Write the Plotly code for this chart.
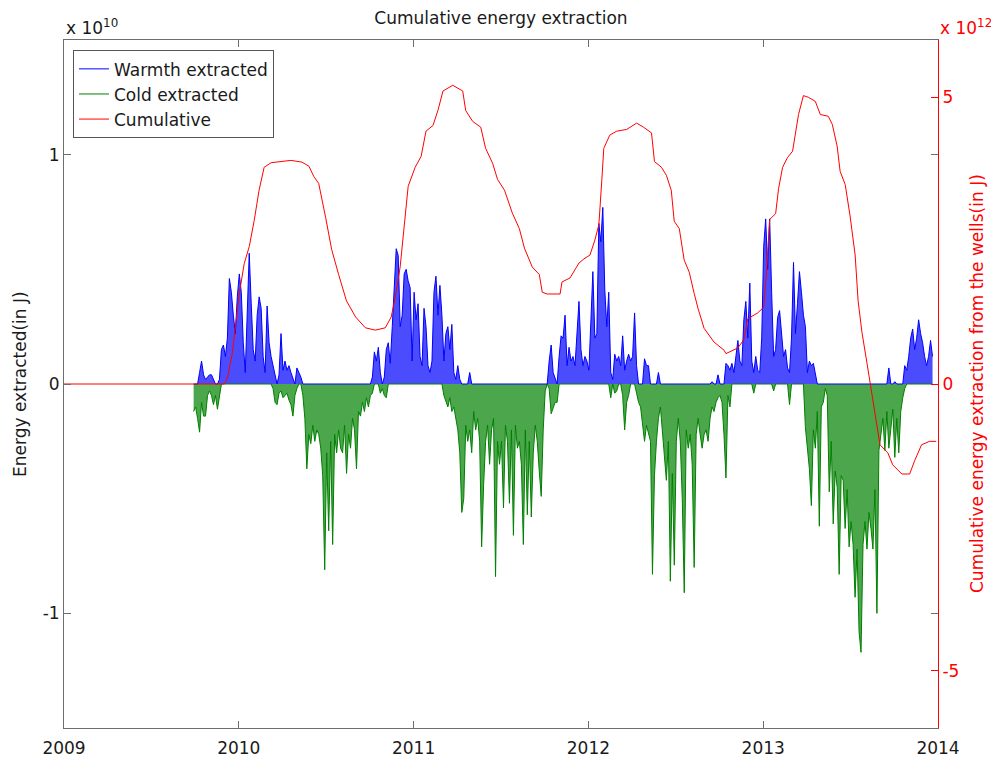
import numpy as np
import plotly.graph_objects as go

# ---- data (energy in units of 1e10 J, cumulative in units of 1e12 J) ----
sample_start = 2009.7415      # fractional year of first sample
sample_step = 1.0 / 88.0      # years between samples (~4.15 days)

warmth = [
    0, 0, 0, 0.05, 0.10, 0.04, 0.02, 0.03, 0.04, 0.04,
    0.02, 0, 0, 0.02, 0.15, 0.17, 0.12, 0.20, 0.46, 0.40,
    0.30, 0.22, 0.38, 0.48, 0.40, 0.18, 0.05, 0.30, 0.57, 0.35,
    0.15, 0.10, 0.30, 0.38, 0.33, 0.12, 0.05, 0.34, 0.18, 0.12,
    0.08, 0.03, 0, 0.04, 0.22, 0.06, 0.10, 0.06, 0.08, 0.05,
    0.02, 0, 0.07, 0.05, 0.03, 0, 0, 0, 0, 0,
    0, 0, 0, 0, 0, 0, 0, 0, 0, 0,
    0, 0, 0, 0, 0, 0, 0, 0, 0, 0,
    0, 0, 0, 0, 0, 0, 0, 0, 0, 0,
    0.03, 0.14, 0.10, 0.16, 0.05, 0, 0.03, 0.15, 0.18, 0.09,
    0.25, 0.40, 0.59, 0.56, 0.25, 0.30, 0.48, 0.50, 0.45, 0.42,
    0.10, 0.40, 0.28, 0.35, 0.12, 0.08, 0.33, 0.25, 0.08, 0.05,
    0.10, 0.40, 0.47, 0.30, 0.43, 0.30, 0.10, 0.22, 0.25, 0.15,
    0.26, 0.05, 0.02, 0.08, 0.02, 0, 0, 0, 0, 0.05,
    0, 0, 0, 0, 0, 0, 0, 0, 0, 0,
    0, 0, 0, 0, 0, 0, 0, 0, 0, 0,
    0, 0, 0, 0, 0, 0, 0, 0, 0, 0,
    0, 0, 0, 0, 0, 0, 0, 0, 0, 0.10,
    0.17, 0.05, 0.02, 0, 0.12, 0.21, 0.20, 0.30, 0.08, 0.16,
    0.10, 0.12, 0.08, 0.20, 0.36, 0.15, 0.08, 0.12, 0.10, 0.06,
    0.25, 0.49, 0.20, 0.22, 0.70, 0.62, 0.77, 0.41, 0.25, 0.40,
    0.05, 0.02, 0.13, 0.10, 0.12, 0.08, 0.21, 0.06, 0.10, 0.13,
    0.10, 0.12, 0.31, 0.08, 0, 0, 0, 0.11, 0.08, 0.08,
    0, 0, 0, 0, 0.05, 0, 0, 0, 0, 0,
    0, 0, 0, 0, 0, 0, 0, 0, 0, 0,
    0, 0, 0, 0, 0, 0, 0, 0, 0, 0,
    0, 0.01, 0, 0, 0.04, 0, 0, 0, 0.09, 0.08,
    0.06, 0.09, 0.05, 0.12, 0.19, 0.10, 0.08, 0.28, 0.36, 0.20,
    0.44, 0.10, 0.05, 0.12, 0.06, 0.05, 0.20, 0.60, 0.72, 0.50,
    0.72, 0.40, 0.12, 0.15, 0.29, 0.32, 0.20, 0.12, 0.15, 0.07,
    0.05, 0.20, 0.53, 0.22, 0.35, 0.49, 0.40, 0.30, 0.25, 0.05,
    0.10, 0.08, 0.09, 0.05, 0, 0, 0, 0, 0, 0,
    0, 0, 0, 0, 0, 0, 0, 0, 0, 0,
    0, 0, 0, 0, 0, 0, 0, 0, 0, 0,
    0, 0, 0, 0, 0, 0, 0, 0, 0, 0,
    0.07, 0, 0, 0.01, 0, 0, 0, 0, 0.08, 0.06,
    0.12, 0.20, 0.24, 0.15, 0.20, 0.28, 0.22, 0.18, 0.12, 0.08,
    0.12, 0.19, 0.12,
]

cold = [
    -0.12, -0.10, -0.15, -0.21, -0.08, -0.14, -0.14, -0.05, -0.03, -0.05,
    -0.09, -0.05, -0.11, -0.06, 0, 0, 0, 0, 0, 0,
    0, 0, 0, 0, 0, 0, 0, 0, 0, 0,
    0, 0, 0, 0, 0, 0, 0, 0, 0, 0,
    -0.02, -0.08, -0.09, -0.04, -0.03, -0.06, -0.05, -0.04, -0.07, -0.09,
    -0.14, -0.05, -0.02, 0, 0, -0.05, -0.15, -0.37, -0.22, -0.26,
    -0.18, -0.25, -0.20, -0.22, -0.28, -0.40, -0.81, -0.30, -0.64, -0.25,
    -0.70, -0.22, -0.30, -0.20, -0.28, -0.30, -0.18, -0.39, -0.22, -0.28,
    -0.15, -0.20, -0.37, -0.12, -0.14, -0.08, -0.12, -0.06, -0.10, -0.05,
    -0.04, 0, 0, 0, -0.04, -0.02, -0.05, -0.06, 0, 0,
    0, 0, 0, 0, 0, 0, 0, 0, 0, 0,
    0, 0, 0, 0, 0, 0, 0, 0, 0, 0,
    0, 0, 0, 0, 0, 0, -0.05, -0.08, -0.10, -0.06,
    -0.12, -0.10, -0.15, -0.20, -0.30, -0.56, -0.50, -0.18, -0.25, -0.20,
    -0.30, -0.12, -0.20, -0.15, -0.25, -0.71, -0.44, -0.25, -0.18, -0.35,
    -0.20, -0.15, -0.84, -0.25, -0.35, -0.25, -0.54, -0.18, -0.25, -0.52,
    -0.20, -0.66, -0.18, -0.28, -0.25, -0.35, -0.70, -0.20, -0.57, -0.25,
    -0.58, -0.30, -0.18, -0.25, -0.38, -0.49, -0.20, -0.03, 0, -0.02,
    -0.13, -0.10, -0.08, -0.08, 0, 0, 0, 0, 0, 0,
    0, 0, 0, 0, 0, 0, 0, 0, 0, 0,
    0, 0, 0, 0, 0, 0, 0, 0, 0, 0,
    -0.06, 0, -0.04, -0.03, 0, 0, -0.05, -0.20, -0.08, -0.05,
    0, 0, 0, -0.04, -0.08, -0.10, -0.18, -0.25, -0.18, -0.22,
    -0.25, -0.83, -0.40, -0.25, -0.15, -0.10, -0.20, -0.33, -0.42, -0.25,
    -0.86, -0.39, -0.79, -0.25, -0.15, -0.25, -0.50, -0.91, -0.20, -0.28,
    -0.22, -0.35, -0.80, -0.22, -0.15, -0.22, -0.28, -0.22, -0.20, -0.25,
    -0.15, -0.10, -0.12, -0.08, -0.06, -0.05, -0.08, -0.22, -0.41, -0.05,
    -0.10, 0, 0, 0, 0, 0, 0, 0, 0, 0,
    0, 0, -0.04, 0, 0, 0, 0, 0, 0, 0,
    0, 0, -0.03, 0, 0, 0, 0, 0, 0, 0,
    -0.09, 0, 0, 0, 0, 0, 0, 0, -0.19, -0.30,
    -0.37, -0.53, -0.20, -0.28, -0.12, -0.62, -0.10, -0.08, -0.02, -0.05,
    -0.47, -0.25, -0.61, -0.38, -0.45, -0.83, -0.40, -0.42, -0.63, -0.46,
    -0.71, -0.60, -0.70, -0.93, -0.72, -1.08, -1.17, -0.70, -0.60, -0.72,
    -0.56, -0.63, -0.72, -0.46, -1.00, -0.29, -0.22, -0.15, -0.29, -0.12,
    -0.28, -0.18, -0.11, -0.32, -0.15, -0.30, -0.12, -0.06, -0.02, 0,
    0, 0, 0, 0, 0, 0, 0, 0, 0, 0,
    0, 0, 0,
]

cum_time = [
    2009.0, 2009.918, 2009.935, 2009.963, 2010.003, 2010.031, 2010.060, 2010.088, 2010.116, 2010.145,
    2010.185, 2010.230, 2010.298, 2010.361, 2010.401, 2010.429, 2010.457, 2010.497, 2010.531, 2010.571,
    2010.616, 2010.668, 2010.724, 2010.781, 2010.838, 2010.872, 2010.895, 2010.923, 2010.952, 2010.969,
    2011.009, 2011.043, 2011.071, 2011.111, 2011.139, 2011.168, 2011.224, 2011.281, 2011.298, 2011.338,
    2011.384, 2011.412, 2011.452, 2011.480, 2011.520, 2011.565, 2011.605, 2011.634, 2011.679, 2011.719,
    2011.736, 2011.764, 2011.838, 2011.849, 2011.895, 2011.946, 2011.974, 2012.009, 2012.037, 2012.060,
    2012.077, 2012.088, 2012.122, 2012.162, 2012.219, 2012.276, 2012.315, 2012.361, 2012.378, 2012.418,
    2012.446, 2012.474, 2012.491, 2012.520, 2012.548, 2012.577, 2012.605, 2012.628, 2012.662, 2012.719,
    2012.776, 2012.787, 2012.855, 2012.889, 2012.912, 2012.969, 2013.003, 2013.020, 2013.037, 2013.071,
    2013.088, 2013.111, 2013.139, 2013.168, 2013.202, 2013.230, 2013.259, 2013.298, 2013.327, 2013.372,
    2013.395, 2013.423, 2013.440, 2013.469, 2013.497, 2013.526, 2013.543, 2013.565, 2013.594, 2013.622,
    2013.651, 2013.668, 2013.713, 2013.741, 2013.793, 2013.838, 2013.866, 2013.906, 2013.952, 2013.99,
]

cum_val = [
    0, 0, 0.1, 0.54, 1.58, 2.1, 2.4, 2.85, 3.38, 3.78,
    3.86, 3.88, 3.9, 3.87, 3.80, 3.62, 3.5, 2.9, 2.35, 1.91,
    1.45, 1.17, 0.98, 0.94, 0.98, 1.17, 1.51, 2.04, 2.98, 3.45,
    3.78, 3.97, 4.41, 4.51, 4.77, 5.11, 5.21, 5.11, 4.77, 4.58,
    4.48, 4.11, 3.85, 3.57, 3.38, 2.98, 2.71, 2.37, 2.04, 1.91,
    1.60, 1.57, 1.57, 1.78, 1.85, 2.11, 2.18, 2.25, 2.51, 2.78,
    3.57, 4.11, 4.34, 4.41, 4.44, 4.55, 4.48, 4.38, 3.88, 3.78,
    3.64, 3.38, 2.84, 2.71, 2.16, 1.95, 1.58, 1.31, 0.97, 0.73,
    0.59, 0.53, 0.63, 0.77, 1.14, 1.24, 1.34, 1.99, 2.87, 2.97,
    3.41, 3.78, 3.95, 4.06, 4.70, 5.03, 5.0, 4.93, 4.70, 4.67,
    4.53, 4.15, 3.71, 3.48, 2.93, 2.25, 1.45, 0.9, 0.36, -0.18,
    -0.66, -1.06, -1.2, -1.41, -1.57, -1.57, -1.34, -1.06, -1.0, -1.0,
]

year_ticks = [2009, 2010, 2011, 2012, 2013, 2014]
left_ticks = [-1, 0, 1]
right_ticks = [-5, 0, 5]

series_names = ["Warmth extracted", "Cold extracted", "Cumulative"]

assert len(warmth) == len(cold)
assert len(cum_time) == len(cum_val)

t = sample_start + sample_step * np.arange(len(warmth))

FONT = "DejaVu Sans"
FS = 17
BLUE = "#0000ff"
GREEN = "#008000"
RED = "#ff0000"
AXIS = "#6e6e6e"
TXT = "#1a1a1a"

fig = go.Figure()

# fills to mimic the dense daily strokes
fig.add_trace(go.Scatter(x=t, y=warmth, mode="lines", line=dict(width=0, color=BLUE),
                         fill="tozeroy", fillcolor="rgba(0,0,255,0.7)",
                         showlegend=False, hoverinfo="skip"))
fig.add_trace(go.Scatter(x=t, y=cold, mode="lines", line=dict(width=0, color=GREEN),
                         fill="tozeroy", fillcolor="rgba(0,128,0,0.7)",
                         showlegend=False, hoverinfo="skip"))

fig.add_trace(go.Scatter(x=t, y=cold, mode="lines", name=series_names[1], legendrank=2,
                         line=dict(color=GREEN, width=1)))
fig.add_trace(go.Scatter(x=t, y=warmth, mode="lines", name=series_names[0], legendrank=1,
                         line=dict(color=BLUE, width=1)))
fig.add_trace(go.Scatter(x=cum_time, y=cum_val, mode="lines", name=series_names[2], legendrank=3,
                         line=dict(color=RED, width=1), yaxis="y2"))

fig.update_layout(
    width=991, height=758,
    margin=dict(l=64, r=53, t=40, b=30),
    paper_bgcolor="white", plot_bgcolor="white",
    font=dict(family=FONT, size=FS, color=TXT),
    title=dict(text="Cumulative energy extraction", x=0.5, xref="paper",
               y=1 - 18 / 758, yref="container", yanchor="middle",
               font=dict(family=FONT, size=FS, color=TXT)),
    showlegend=True,
    legend=dict(x=0.0103, y=0.985, xanchor="left", yanchor="top",
                bgcolor="white", bordercolor="#555", borderwidth=1,
                font=dict(family=FONT, size=FS, color=TXT),
                tracegroupgap=0),
    xaxis=dict(range=[2009, 2014], tickvals=year_ticks,
               ticktext=[str(y) for y in year_ticks],
               ticks="inside", ticklen=7, tickcolor=AXIS,
               ticklabelstandoff=5, automargin=False,
               showline=True, linecolor=AXIS, linewidth=1, mirror="ticks",
               showgrid=False, zeroline=False),
    yaxis=dict(range=[-1.5, 1.5], tickvals=left_ticks,
               ticktext=[str(v) for v in left_ticks],
               ticks="inside", ticklen=7, tickcolor=AXIS, automargin=False,
               showline=True, linecolor=AXIS, linewidth=1, mirror="ticks",
               showgrid=False, zeroline=False),
    yaxis2=dict(range=[-6, 6], tickvals=right_ticks,
                ticktext=[str(v) for v in right_ticks],
                overlaying="y", side="right", anchor="x", automargin=False,
                ticks="inside", ticklen=7, tickcolor=RED,
                tickfont=dict(color=RED, family=FONT, size=FS),
                showline=True, linecolor=RED, linewidth=1,
                showgrid=False, zeroline=False),
    annotations=[
        dict(text="x 10<sup>10</sup>", xref="paper", yref="paper", x=0, y=1,
             xanchor="left", yanchor="bottom", yshift=0, showarrow=False,
             font=dict(family=FONT, size=FS, color=TXT)),
        dict(text="x 10<sup>12</sup>", xref="paper", yref="paper", x=1, y=1,
             xanchor="left", yanchor="bottom", yshift=0, showarrow=False,
             font=dict(family=FONT, size=FS, color=RED)),
        dict(text="Energy extracted(in J)", xref="paper", yref="paper",
             x=(20 - 64) / 874, y=0.5, xanchor="center", yanchor="middle",
             textangle=-90, showarrow=False,
             font=dict(family=FONT, size=FS, color=TXT)),
        dict(text="Cumulative energy extraction from the wells(in J)", xref="paper", yref="paper",
             x=(977 - 64) / 874, y=0.5, xanchor="center", yanchor="middle",
             textangle=-90, showarrow=False,
             font=dict(family=FONT, size=FS, color=RED)),
    ],
)

fig.write_html("out.html")
